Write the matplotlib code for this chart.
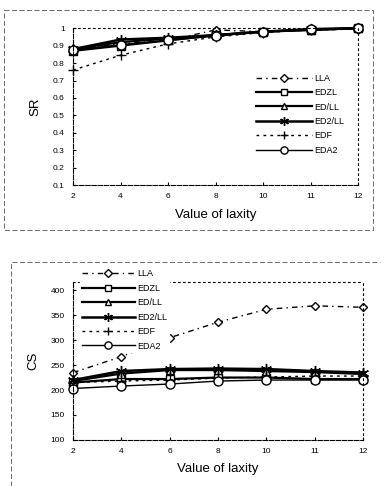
import matplotlib
matplotlib.use('Agg')
from matplotlib import pyplot as plt
from matplotlib.lines import Line2D

plt.rcParams['font.family'] = ['Liberation Sans', 'DejaVu Sans']

laxity = ['2', '4', '6', '8', '10', '11', '12']
names = ['LLA', 'EDZL', 'ED/LL', 'ED2/LL', 'EDF', 'EDA2']

sr_lla = [0.88, 0.91, 0.93, 0.99, 0.98, 0.99, 0.995]
sr_edzl = [0.87, 0.90, 0.93, 0.96, 0.98, 0.99, 1.0]
sr_edll = [0.88, 0.92, 0.94, 0.96, 0.98, 0.99, 1.0]
sr_ed2ll = [0.88, 0.935, 0.945, 0.96, 0.98, 0.995, 1.0]
sr_edf = [0.76, 0.845, 0.91, 0.95, 0.975, 0.99, 0.995]
sr_eda2 = [0.875, 0.905, 0.93, 0.955, 0.98, 0.995, 1.0]

cs_lla = [235, 267, 305, 336, 362, 369, 366]
cs_edzl = [215, 222, 222, 225, 225, 222, 222]
cs_edll = [218, 233, 240, 240, 238, 236, 232]
cs_ed2ll = [220, 238, 242, 243, 242, 238, 235]
cs_edf = [215, 218, 220, 224, 226, 228, 228]
cs_eda2 = [203, 208, 212, 218, 220, 220, 220]

styles = [
    dict(ls=(0, (4, 3, 1, 3)), marker='D', ms=4.5, mfc='white', lw=1.0),
    dict(ls='-', marker='s', ms=5.5, mfc='white', lw=1.6),
    dict(ls='-', marker='^', ms=5.5, mfc='white', lw=1.6),
    dict(ls='-', marker=(6, 2, 0), ms=8, mfc='black', lw=1.8),
    dict(ls=(0, (2, 3)), marker='+', ms=7, mfc='black', lw=1.0),
    dict(ls='-', marker='o', ms=6.5, mfc='white', lw=1.0),
]

fig = plt.figure(figsize=(3.87, 4.86), dpi=100)

# outer frames of the scanned panels
fig.add_artist(Line2D([4/387, 373/387, 373/387, 4/387, 4/387],
                      [1-10/486, 1-10/486, 1-230/486, 1-230/486, 1-10/486],
                      transform=fig.transFigure, color='#555555', lw=0.6, ls=(0, (6, 3))))
fig.add_artist(Line2D([11/387, 11/387, 380/387],
                      [0, 1-262/486, 1-262/486],
                      transform=fig.transFigure, color='#555555', lw=0.6, ls=(0, (6, 3))))

ax1 = fig.add_axes([0.189, 0.619, 0.736, 0.323])
ax2 = fig.add_axes([0.189, 0.095, 0.749, 0.325])

x = list(range(len(laxity)))
sr = [sr_lla, sr_edzl, sr_edll, sr_ed2ll, sr_edf, sr_eda2]
cs = [cs_lla, cs_edzl, cs_edll, cs_ed2ll, cs_edf, cs_eda2]

for ax, data in [(ax1, sr), (ax2, cs)]:
    for name, vals, st in zip(names, data, styles):
        ax.plot(x, vals, color='black', mec='black', mew=1.0, label=name,
                clip_on=False, **st)
    ax.set_xlim(0, 6)
    ax.set_xticks(x)
    ax.set_xticklabels(laxity)
    ax.tick_params(axis='both', labelsize=6, direction='in', length=2, pad=6)
    ax.set_xlabel('Value of laxity', fontsize=9.5, labelpad=6)
    for side in ['top', 'right']:
        ax.spines[side].set_linestyle((0, (1.5, 3)))
    for side in ['left', 'bottom']:
        ax.spines[side].set_linestyle((0, (4, 1.5)))
    for s in ax.spines.values():
        s.set_linewidth(0.8)

ax1.set_ylim(0.1, 1.0)
ax1.set_yticks([0.1, 0.2, 0.3, 0.4, 0.5, 0.6, 0.7, 0.8, 0.9, 1.0])
ax1.set_yticklabels(['0.1', '0.2', '0.3', '0.4', '0.5', '0.6', '0.7', '0.8', '0.9', '1'])
ax1.set_ylabel('SR', fontsize=9.5, labelpad=8)
ax1.legend(loc='lower right', bbox_to_anchor=(0.965, 0.17), frameon=False, fontsize=6.5,
           handlelength=6.2, handletextpad=0.3, labelspacing=0.6, borderaxespad=0,
           markerscale=0.8)

ax2.set_ylim(100, 417)
ax2.set_yticks([100, 150, 200, 250, 300, 350, 400])
ax2.set_ylabel('CS', fontsize=9.5, labelpad=8)
leg = ax2.legend(loc='upper left', bbox_to_anchor=(0.025, 1.09), frameon=True, fontsize=6.5,
                 handlelength=5.8, handletextpad=0.3, labelspacing=0.6, borderaxespad=0,
                 borderpad=0.2, fancybox=False, edgecolor='white', facecolor='white',
                 framealpha=1, markerscale=0.8)
leg.set_zorder(5)

fig.savefig('out.png', dpi=100)
